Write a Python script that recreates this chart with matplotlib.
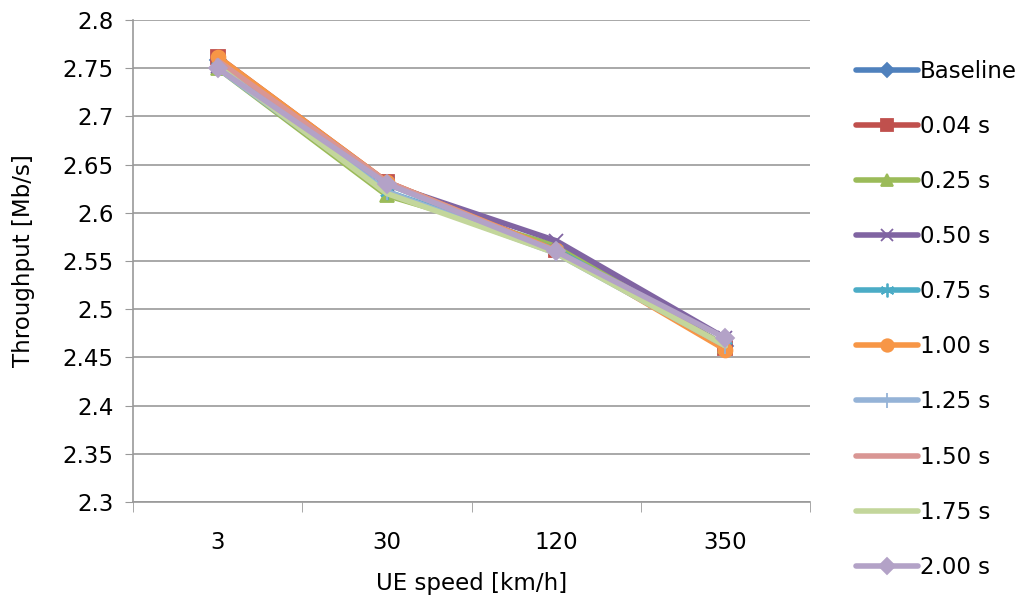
import numpy as np
import matplotlib.pyplot as plt

speeds = ['3', '30', '120', '350']
labels = ['Baseline', '0.04 s', '0.25 s', '0.50 s', '0.75 s',
          '1.00 s', '1.25 s', '1.50 s', '1.75 s', '2.00 s']

baseline = [2.758, 2.630, 2.562, 2.462]
t004 = [2.762, 2.632, 2.561, 2.460]
t025 = [2.750, 2.618, 2.566, 2.462]
t050 = [2.752, 2.630, 2.571, 2.470]
t075 = [2.752, 2.622, 2.562, 2.462]
t100 = [2.762, 2.632, 2.561, 2.458]
t125 = [2.750, 2.622, 2.558, 2.462]
t150 = [2.758, 2.632, 2.560, 2.462]
t175 = [2.752, 2.620, 2.558, 2.462]
t200 = [2.750, 2.630, 2.560, 2.470]
series = [baseline, t004, t025, t050, t075, t100, t125, t150, t175, t200]

colors = ['#4F81BD', '#C0504D', '#9BBB59', '#8064A2', '#4BACC6',
          '#F79646', '#95B3D7', '#D99694', '#C3D69B', '#B3A2C7']
markers = ['D', 's', '^', 'x', (6, 2, 0), 'o', '|', None, None, 'D']
msizes = [8, 10, 10, 10, 11, 10, 12, 0, 0, 9]

fs = 16.5
fig = plt.figure(figsize=(10.3, 6.02), dpi=100)
ax = fig.add_axes([133/1030, 100/602, 677/1030, 482/602])

x = np.arange(len(speeds))
for vals, lab, c, m, ms in zip(series, labels, colors, markers, msizes):
    ax.plot(x, vals, color=c, lw=4, marker=m, markersize=ms,
            markeredgewidth=1.3, label=lab, solid_capstyle='round')

ax.set_xlim(-0.5, len(speeds) - 0.5)
ax.set_ylim(2.3, 2.8)
ax.set_yticks(np.arange(2.3, 2.8001, 0.05))
ax.set_yticklabels(['2.3', '2.35', '2.4', '2.45', '2.5', '2.55', '2.6',
                    '2.65', '2.7', '2.75', '2.8'])
ax.set_xticks(x)
ax.set_xticklabels(speeds)
ax.set_xticks(np.arange(-0.5, len(speeds), 1), minor=True)
ax.tick_params(axis='x', which='major', length=0, pad=21, labelsize=fs)
ax.tick_params(axis='x', which='minor', length=7, color='#999999')
ax.tick_params(axis='y', length=6, color='#999999', labelsize=fs, pad=8)
ax.grid(axis='y', color='#999999', lw=1.2)
ax.set_axisbelow(True)
for s in ['top', 'right']:
    ax.spines[s].set_visible(False)
for s in ['left', 'bottom']:
    ax.spines[s].set_color('#999999')
    ax.spines[s].set_linewidth(1.2)
ax.set_xlabel('UE speed [km/h]', fontsize=fs, labelpad=13)
ax.set_ylabel('Throughput [Mb/s]', fontsize=fs, labelpad=20)

fig.legend(loc='upper left', bbox_to_anchor=(856/1030, 1 - 60/602),
           frameon=False, fontsize=fs, handlelength=2.7, handletextpad=0.1,
           labelspacing=1.4, borderaxespad=0, borderpad=0, markerscale=0.9)

fig.savefig('out.png', dpi=100)
